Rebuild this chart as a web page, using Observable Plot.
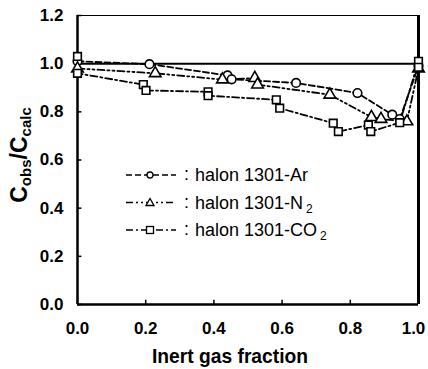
<!DOCTYPE html>
<html>
<head>
<meta charset="utf-8">
<script src="https://cdn.jsdelivr.net/npm/d3@7"></script>
<script src="https://cdn.jsdelivr.net/npm/@observablehq/plot@0.6"></script>
<style>
  html, body { margin: 0; padding: 0; background: #fff; }
</style>
</head>
<body>
<div id="chart"></div>
<script>
// ---- data ----
const arX  = [0.0, 0.211, 0.44, 0.452, 0.641, 0.821, 0.923, 0.945, 1.0];
const arY  = [1.01, 0.998, 0.951, 0.935, 0.92, 0.878, 0.788, 0.77, 0.99];

const n2X  = [0.0, 0.228, 0.425, 0.52, 0.528, 0.74, 0.862, 0.89, 0.966, 1.0];
const n2Y  = [0.98, 0.96, 0.934, 0.94, 0.913, 0.871, 0.778, 0.77, 0.76, 0.98];

const co2X = [0.0, 0.0, 0.193, 0.201, 0.383, 0.383, 0.583, 0.593, 0.75, 0.765, 0.853, 0.86, 0.945, 1.0, 1.0];
const co2Y = [1.03, 0.96, 0.913, 0.889, 0.883, 0.867, 0.85, 0.815, 0.753, 0.718, 0.745, 0.718, 0.755, 1.01, 0.985];

const seriesNames = ["halon 1301-Ar", "halon 1301-N2", "halon 1301-CO2"];
const xTicks = [0, 0.2, 0.4, 0.6, 0.8, 1.0];
const yTicks = [0, 0.2, 0.4, 0.6, 0.8, 1.0, 1.2];
const refY = [1.0];

const table = (xs, ys) => xs.map((x, i) => ({x, y: ys[i]}));
const series = [
  {name: seriesNames[0], data: table(arX, arY),  symbol: "circle",   dash: "6,3"},
  {name: seriesNames[1], data: table(n2X, n2Y),  symbol: "triangle", dash: "7,3,2,3,2,3"},
  {name: seriesNames[2], data: table(co2X, co2Y), symbol: "square",  dash: "7,3,2,3"}
];

const font = "'Liberation Sans', Arial, Helvetica, sans-serif";
const fmt = d3.format(".1f");
const xTicksInner = xTicks.slice(0, -1);
const xTickLast = xTicks.slice(-1);

const marks = [
  // frame
  Plot.ruleY([1.2], {stroke: "#000", strokeWidth: 1}),
  Plot.ruleY([0], {stroke: "#000", strokeWidth: 2.5}),
  Plot.ruleX([0], {stroke: "#000", strokeWidth: 2.5}),
  Plot.ruleX([1], {stroke: "#000", strokeWidth: 3}),
  // inward ticks
  Plot.ruleX(xTicks, {x: d => d, y1: 0, y2: 0.018, stroke: "#000", strokeWidth: 1.5}),
  Plot.ruleY(yTicks, {y: d => d, x1: 0, x2: 0.013, stroke: "#000", strokeWidth: 1.5}),
  // reference line
  Plot.ruleY(refY, {stroke: "#000", strokeWidth: 2}),
  Plot.axisX(xTicksInner, {tickSize: 0, tickPadding: 17, tickFormat: fmt, label: null, fontSize: 17, fontWeight: "bold"}),
  Plot.axisX(xTickLast, {tickSize: 0, tickPadding: 17, tickFormat: fmt, label: null, fontSize: 17, fontWeight: "bold", dx: -5}),
  Plot.axisY(yTicks, {tickSize: 0, tickPadding: 14, tickFormat: fmt, label: null, fontSize: 17, fontWeight: "bold"})
];
for (const s of series) {
  marks.push(Plot.line(s.data, {x: "x", y: "y", stroke: "#000", strokeWidth: 1.8, strokeDasharray: s.dash}));
}
for (const s of series) {
  marks.push(Plot.dot(s.data, {x: "x", y: "y", symbol: s.symbol, r: 4.3, fill: "#fff", stroke: "#000", strokeWidth: 1.6}));
}

const svg = Plot.plot({
  width: 428,
  height: 369,
  marginLeft: 77,
  marginRight: 10,
  marginTop: 15,
  marginBottom: 65,
  x: {domain: [0, 1]},
  y: {domain: [0, 1.2]},
  style: {fontFamily: font, fontSize: "17px", color: "#000", background: "#fff"},
  marks
});
document.getElementById("chart").appendChild(svg);

const g = d3.select(svg).append("g").attr("font-family", font).attr("fill", "#000");

// x axis label
g.append("text")
  .attr("x", 230).attr("y", 363)
  .attr("text-anchor", "middle")
  .attr("font-size", 21).attr("font-weight", "bold")
  .attr("textLength", 156).attr("lengthAdjust", "spacingAndGlyphs")
  .text("Inert gas fraction");

// y axis label with subscripts
const yl = g.append("text")
  .attr("transform", "translate(27,155) rotate(-90)")
  .attr("text-anchor", "middle")
  .attr("font-size", 23).attr("font-weight", "bold");
yl.append("tspan").text("C");
yl.append("tspan").attr("font-size", 15).attr("dy", 4).text("obs");
yl.append("tspan").attr("dy", -4).text("/C");
yl.append("tspan").attr("font-size", 15).attr("dy", 4).text("calc");

// legend
const legY = [175, 202.5, 230];
const symbols = {
  circle: (sel, cx, cy) => sel.append("circle").attr("cx", cx).attr("cy", cy).attr("r", 3),
  triangle: (sel, cx, cy) => sel.append("path").attr("d", `M${cx},${cy-4}L${cx+4},${cy+3}L${cx-4},${cy+3}Z`),
  square: (sel, cx, cy) => sel.append("rect").attr("x", cx-3.5).attr("y", cy-3.5).attr("width", 7).attr("height", 7)
};
series.forEach((s, i) => {
  const y = legY[i];
  g.append("line").attr("x1", 126).attr("x2", 176).attr("y1", y).attr("y2", y)
    .attr("stroke", "#000").attr("stroke-width", 1.6).attr("stroke-dasharray", s.dash);
  symbols[s.symbol](g, 150, y).attr("fill", "#fff").attr("stroke", "#000").attr("stroke-width", 1.3);
  g.append("text").attr("x", 184).attr("y", y + 5).attr("font-size", 18)
    .attr("text-anchor", "start").text(":");
  const t = g.append("text").attr("x", 195).attr("y", y + 6).attr("font-size", 18)
    .attr("text-anchor", "start");
  const m = s.name.match(/^(.*?)(\d)$/);
  if (m && /N2$|CO2$/.test(s.name)) {
    t.append("tspan").text(m[1]);
    t.append("tspan").attr("font-size", 12).attr("dx", 3).attr("dy", 4).text(m[2]);
  } else {
    t.text(s.name);
  }
});
</script>
</body>
</html>
